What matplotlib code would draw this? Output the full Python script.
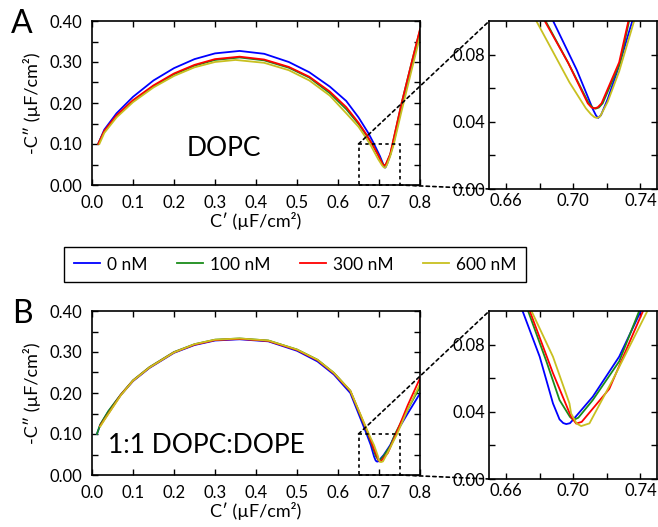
import matplotlib
matplotlib.use("Agg")
import matplotlib.pyplot as plt
from matplotlib.patches import Rectangle, ConnectionPatch
from matplotlib.ticker import MultipleLocator, FixedLocator

plt.rcParams['font.family'] = ['Lato', 'DejaVu Sans']

labels = ['0 nM', '100 nM', '300 nM', '600 nM']
colors = ['#0000ff', '#1a8c1a', '#ff0000', '#c8c020']

# panel A, DOPC
a_blue_x = [0.015, 0.03, 0.06, 0.10, 0.15, 0.20, 0.25, 0.30, 0.36, 0.42, 0.48, 0.53, 0.58, 0.62, 0.65,
            0.675, 0.688, 0.702, 0.709, 0.7116, 0.7135, 0.7148, 0.7165, 0.7205, 0.7273, 0.7331, 0.7352,
            0.755, 0.78, 0.80]
a_blue_y = [0.100, 0.135, 0.175, 0.215, 0.255, 0.285, 0.307, 0.321, 0.327, 0.320, 0.300, 0.275, 0.240, 0.205, 0.165,
            0.125, 0.100, 0.071, 0.054, 0.0476, 0.0438, 0.0423, 0.0440, 0.0536, 0.0734, 0.0933, 0.1002,
            0.190, 0.290, 0.370]
a_green_x = [0.015, 0.03, 0.06, 0.10, 0.15, 0.20, 0.25, 0.30, 0.36, 0.42, 0.48, 0.53, 0.58, 0.62, 0.65,
             0.67, 0.6835, 0.697, 0.7092, 0.7115, 0.7132, 0.7152, 0.7175, 0.7278, 0.7332, 0.755, 0.78, 0.80]
a_green_y = [0.100, 0.131, 0.168, 0.205, 0.241, 0.270, 0.291, 0.305, 0.311, 0.304, 0.286, 0.262, 0.224, 0.185, 0.149,
             0.120, 0.100, 0.075, 0.0510, 0.0485, 0.0478, 0.0485, 0.0510, 0.0750, 0.100, 0.199, 0.300, 0.378]
a_red_x = [0.015, 0.03, 0.06, 0.10, 0.15, 0.20, 0.25, 0.30, 0.36, 0.42, 0.48, 0.53, 0.58, 0.62, 0.65,
           0.67, 0.683, 0.697, 0.7086, 0.7108, 0.7125, 0.7145, 0.7168, 0.7273, 0.7328, 0.755, 0.78, 0.80]
a_red_y = [0.100, 0.132, 0.170, 0.207, 0.243, 0.272, 0.293, 0.307, 0.313, 0.306, 0.288, 0.264, 0.228, 0.190, 0.152,
           0.122, 0.100, 0.075, 0.0510, 0.0486, 0.0480, 0.0486, 0.0510, 0.0754, 0.100, 0.199, 0.300, 0.380]
a_yel_x = [0.018, 0.03, 0.06, 0.10, 0.15, 0.20, 0.25, 0.30, 0.35, 0.42, 0.48, 0.53, 0.58, 0.62, 0.65,
           0.665, 0.678, 0.6977, 0.7075, 0.7105, 0.7125, 0.7140, 0.7160, 0.7205, 0.7273, 0.7362, 0.755, 0.78, 0.80]
a_yel_y = [0.100, 0.127, 0.165, 0.202, 0.238, 0.266, 0.287, 0.300, 0.305, 0.298, 0.280, 0.255, 0.218, 0.175, 0.142,
           0.120, 0.100, 0.0635, 0.0480, 0.0445, 0.0428, 0.0423, 0.0432, 0.0520, 0.0700, 0.100, 0.180, 0.282, 0.362]

# panel B, 1:1 DOPC:DOPE
b_blue_x = [0.012, 0.02, 0.04, 0.07, 0.10, 0.14, 0.20, 0.25, 0.30, 0.36, 0.43, 0.50, 0.55, 0.59, 0.63,
            0.6698, 0.680, 0.6879, 0.6918, 0.6940, 0.6958, 0.6980, 0.6997, 0.7116, 0.7273, 0.7402, 0.77, 0.80]
b_blue_y = [0.100, 0.122, 0.155, 0.195, 0.229, 0.261, 0.298, 0.317, 0.328, 0.331, 0.326, 0.303, 0.277, 0.245, 0.200,
            0.100, 0.0728, 0.045, 0.0355, 0.0333, 0.0327, 0.0332, 0.0351, 0.049, 0.0728, 0.100, 0.150, 0.199]
b_green_x = [0.012, 0.02, 0.04, 0.07, 0.10, 0.14, 0.20, 0.25, 0.30, 0.36, 0.43, 0.50, 0.55, 0.59, 0.63,
             0.6731, 0.684, 0.6918, 0.698, 0.7001, 0.7030, 0.7116, 0.7273, 0.7392, 0.77, 0.80]
b_green_y = [0.100, 0.123, 0.156, 0.196, 0.231, 0.263, 0.300, 0.319, 0.330, 0.333, 0.328, 0.306, 0.281, 0.249, 0.205,
             0.100, 0.070, 0.047, 0.037, 0.0351, 0.0365, 0.047, 0.0700, 0.100, 0.160, 0.215]
b_red_x = [0.02, 0.03, 0.05, 0.07, 0.10, 0.14, 0.20, 0.25, 0.30, 0.36, 0.43, 0.50, 0.55, 0.59, 0.63,
           0.6741, 0.6879, 0.6987, 0.7017, 0.7050, 0.7214, 0.7415, 0.77, 0.80]
b_red_y = [0.120, 0.135, 0.165, 0.195, 0.230, 0.262, 0.299, 0.318, 0.329, 0.332, 0.327, 0.305, 0.280, 0.248, 0.205,
           0.100, 0.063, 0.037, 0.033, 0.034, 0.0536, 0.100, 0.170, 0.236]
b_yel_x = [0.02, 0.03, 0.05, 0.07, 0.10, 0.14, 0.20, 0.25, 0.30, 0.36, 0.43, 0.50, 0.55, 0.59, 0.63,
           0.6751, 0.6879, 0.6977, 0.6987, 0.7020, 0.7047, 0.7096, 0.7234, 0.7441, 0.77, 0.80]
b_yel_y = [0.118, 0.134, 0.164, 0.194, 0.230, 0.262, 0.299, 0.319, 0.330, 0.333, 0.328, 0.306, 0.281, 0.249, 0.206,
           0.100, 0.0728, 0.045, 0.039, 0.0330, 0.0315, 0.0331, 0.0589, 0.100, 0.160, 0.222]

panel_a = [(a_blue_x, a_blue_y), (a_green_x, a_green_y), (a_red_x, a_red_y), (a_yel_x, a_yel_y)]
panel_b = [(b_blue_x, b_blue_y), (b_green_x, b_green_y), (b_red_x, b_red_y), (b_yel_x, b_yel_y)]

fig = plt.figure(figsize=(6.58, 5.27), dpi=100)

W, H = 658.0, 527.0


def style(ax, pad):
    ax.tick_params(which='both', direction='in', top=True, right=True, length=4.5, width=1.0,
                   labelsize=12, pad=pad, colors='black')
    for s in ax.spines.values():
        s.set_linewidth(1.2)


def make_panel(top_px, data, letter, name, name_xy):
    bot = top_px + 164
    ax = fig.add_axes([92 / W, (H - bot) / H, 328 / W, 164 / H])
    ins = fig.add_axes([489.3 / W, (H - bot - 4) / H, 168 / W, 168 / H])
    for (x, y), c in zip(data, colors):
        ax.plot(x, y, color=c, lw=1.3)
        ins.plot(x, y, color=c, lw=1.3)
    ax.set_xlim(0, 0.8)
    ax.set_ylim(0, 0.4)
    ax.xaxis.set_major_locator(MultipleLocator(0.1))
    ax.yaxis.set_major_locator(MultipleLocator(0.1))
    ax.yaxis.set_minor_locator(MultipleLocator(0.05))
    ax.set_xticklabels(['%.1f' % v for v in ax.get_xticks()])
    ax.set_yticklabels(['%.2f' % v for v in ax.get_yticks()])
    style(ax, 7)
    ax.set_xlabel('C\u2032 (\u00b5F/cm\u00b2)', fontsize=13, labelpad=1)
    ax.set_ylabel('-C\u2033 (\u00b5F/cm\u00b2)', fontsize=13, labelpad=6)
    ax.text(name_xy[0], name_xy[1], name, fontsize=19, ha='center', va='center')
    fig.text(22 / W, (H - top_px - 3) / H, letter, fontsize=23, ha='center', va='center')

    ins.set_xlim(0.65, 0.75)
    ins.set_ylim(0, 0.1)
    ins.xaxis.set_major_locator(FixedLocator([0.66, 0.70, 0.74]))
    ins.xaxis.set_minor_locator(FixedLocator([0.68, 0.72]))
    ins.yaxis.set_major_locator(FixedLocator([0.0, 0.04, 0.08]))
    ins.yaxis.set_minor_locator(FixedLocator([0.02, 0.06]))
    ins.set_xticklabels(['0.66', '0.70', '0.74'])
    ins.set_yticklabels(['0.00', '0.04', '0.08'])
    style(ins, 3)

    ax.add_patch(Rectangle((0.65, 0.0), 0.1, 0.1, fill=False, ls=(0, (2, 2)), lw=1.2,
                           ec='black', clip_on=False, zorder=5))
    for pa, pb in [((0.65, 0.1), (0.0, 1.0)), ((0.75, 0.0), (0.0, 0.0))]:
        con = ConnectionPatch(xyA=pa, coordsA=ax.transData, xyB=pb, coordsB=ins.transAxes,
                              ls=(0, (2, 2)), lw=1.2, color='black', zorder=5)
        fig.add_artist(con)
    return ax


ax_a = make_panel(21, panel_a, 'A', 'DOPC', (0.322, 0.09))
ax_b = make_panel(311, panel_b, 'B', '1:1 DOPC:DOPE', (0.279, 0.071))

handles = ax_a.get_lines()
leg = fig.legend(handles, labels, loc='center', bbox_to_anchor=(295 / W, (H - 264.5) / H), ncol=4,
                 fontsize=12.5, frameon=True, fancybox=False, edgecolor='black', framealpha=1,
                 handlelength=1.5, handletextpad=0.4, columnspacing=1.7, borderpad=0.55)
leg.get_frame().set_linewidth(1.0)

fig.savefig('out.png', dpi=100)
